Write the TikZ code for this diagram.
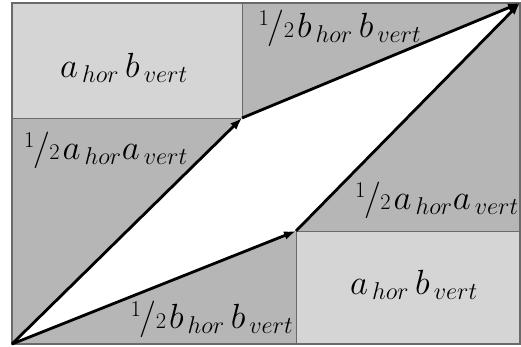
\documentclass[tikz,border=0pt]{standalone}
\usepackage{amsmath}
\usetikzlibrary{arrows.meta}
\definecolor{arealight}{HTML}{D5D5D5}
\definecolor{areadark}{HTML}{B6B6B6}
\definecolor{edgegray}{HTML}{6A6A6A}
\newcommand{\hlf}{\raisebox{0.32em}{\fontsize{16}{16}\selectfont 1}\kern-0.03em/\kern-0.02em{\fontsize{16}{16}\selectfont 2}\kern0.08em}
\begin{document}
\begin{tikzpicture}[
  x=0.025cm, y=-0.025cm,
  area/.style={fill=arealight, draw=edgegray, line width=0.6pt},
  term/.style={inner sep=0pt, font=\fontsize{26}{30}\selectfont},
  vec/.style={-{Latex[length=3mm,width=2.2mm]}, line width=2pt, draw=black}
]
\useasboundingbox (0,0) rectangle (521,347);
% corners of the big rectangle and tips of the vectors
\coordinate (o) at (12,344);
\coordinate (p) at (296,231);
\coordinate (q) at (242,118);
\coordinate (r) at (520,3);
\fill[areadark] (12,3) rectangle (520,344);
\draw[area] (12,3) rectangle (q);
\draw[area] (p) rectangle (520,344);
\draw[edgegray, line width=0.6pt] (p) -- (296,344) (q) -- (12,118) (q) -- (242,3) (p) -- (520,231);
\fill[white] (o) -- (p) -- (r) -- (q) -- cycle;
\draw[edgegray, line width=0.8pt] (12,3) rectangle (520,344);
\node[term] (tl) at (124,68) {$a_{\,hor}\,b_{\,vert}$};
\node[term] (br) at (414,285) {$a_{\,hor}\,b_{\,vert}$};
\node[term] (tt) at (340,28) {\hlf$b_{\,hor}\,b_{\,vert}$};
\node[term] (bb) at (212,319) {\hlf$b_{\,hor}\,b_{\,vert}$};
\node[term] (ll) at (106,150) {\hlf$a_{\,hor}a_{\,vert}$};
\node[term] (rr) at (437,200) {\hlf$a_{\,hor}a_{\,vert}$};
\draw[vec] (o) -- (p);
\draw[vec] (p) -- (r);
\draw[vec] (o) -- (q);
\draw[vec] (q) -- (r);
\end{tikzpicture}
\end{document}
